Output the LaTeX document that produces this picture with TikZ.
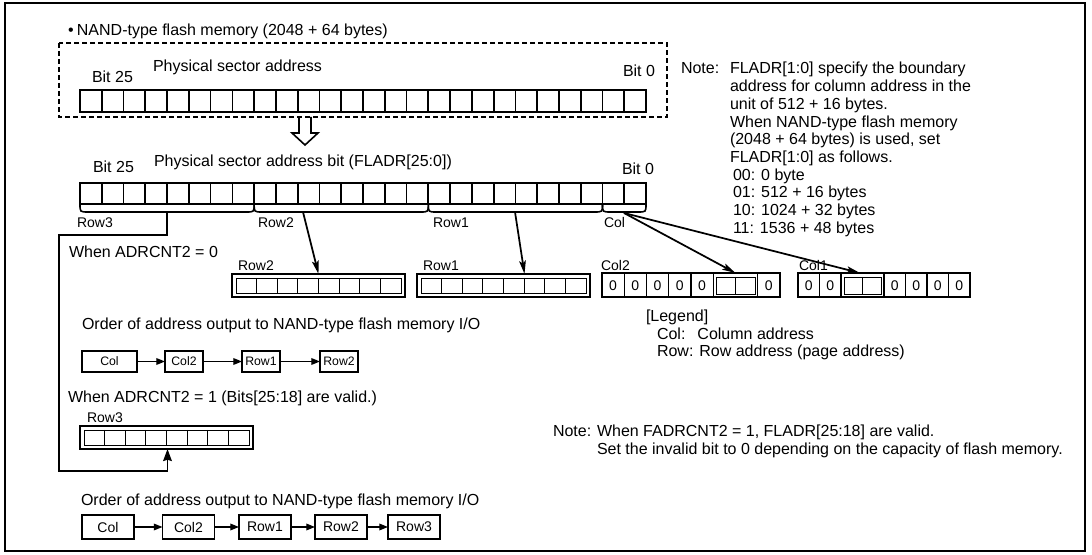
\documentclass[tikz,border=0pt]{standalone}
\usepackage{fontspec}
\setmainfont{Liberation Sans}
\usetikzlibrary{arrows.meta}
\begin{document}
\begin{tikzpicture}[x=0.75pt,y=-0.75pt,
  every node/.style={inner sep=0pt,outer sep=0pt},
  big/.style={font=\fontsize{12}{13.3}\selectfont},
  small/.style={font=\fontsize{10.5}{12}\selectfont},
  tiny/.style={font=\fontsize{9.2}{11}\selectfont},
  cellline/.style={line width=1.3pt},
  thinline/.style={line width=0.6pt},
  bracepath/.style={line width=1.2pt,line join=round},
  conn/.style={line width=1.3pt,-{Stealth[length=10pt,width=5pt,inset=2pt]}},
  feed/.style={line width=1.3pt,-{Stealth[length=9pt,width=6.5pt,inset=1pt]}},
  flow/.style={line width=0.9pt,-{Triangle[length=6.5pt,width=5pt]}},
  dblbox/.style={draw,line width=1.7pt,minimum width=129.75pt,minimum height=17.25pt,anchor=north west},
  colbox/.style={draw,line width=1.7pt,minimum height=18pt,anchor=north west},
  fboxa/.style={draw,line width=1.3pt,tiny,minimum height=15.75pt},
  fboxb/.style={draw,line width=1.3pt,small,minimum height=18pt,minimum width=39pt},
]
\useasboundingbox (0,0) rectangle (1092,555);
\draw[line width=1.6pt] (5,3) rectangle (1085,551);

% title
\node[big,anchor=base west] (title) at (68,36) {•\hspace{2.5pt}NAND-type flash memory (2048 + 64 bytes)};

% dashed box with top register
\draw[dash pattern=on 3.5pt off 2.5pt,line width=0.9pt] (59,43) rectangle (667,117);
\node[big,anchor=base west] (psa) at (153,72) {Physical sector address};
\node[big,anchor=base west] (b25a) at (92,83) {Bit 25};
\node[big,anchor=base west] (b0a) at (623,77) {Bit 0};
\foreach \i in {0,...,25} \draw[cellline] ({80+\i*21.77},90) rectangle ({80+(\i+1)*21.77},112);

% hollow arrow
\draw[line width=1.2pt,line join=miter] (299,117) -- (299,133) -- (292,133) -- (305,145) -- (318,133) -- (311,133) -- (311,117);

% second register
\node[big,anchor=base west] (psab) at (154,167) {Physical sector address bit (FLADR[25:0])};
\node[big,anchor=base west] (b25b) at (93,173) {Bit 25};
\node[big,anchor=base west] (b0b) at (622,175) {Bit 0};
\foreach \i in {0,...,25} \draw[cellline] ({80+\i*21.77},183) rectangle ({80+(\i+1)*21.77},204);

% braces
\foreach \a/\b in {80/254.16,254.16/428.32,428.32/602.48,602.48/646}
  \draw[bracepath] (\a,204) .. controls (\a,212) .. ({\a+8},212) -- ({\b-8},212) .. controls (\b,212) .. (\b,204);
\node[small,anchor=base west] (lr3) at (77,228) {Row3};
\node[small,anchor=base west] (lr2) at (258,228) {Row2};
\node[small,anchor=base west] (lr1) at (433,228) {Row1};
\node[small,anchor=base west] (lc) at (604,228) {Col};
\coordinate (r3b) at (167.1,212);
\coordinate (r2b) at (303,212);
\coordinate (r1b) at (515,212);
\coordinate (cb) at (624,213);

\node[big,anchor=base west] (w0) at (69,258) {When ADRCNT2 = 0};

% double boxes
\node[dblbox] (row2box) at (232,274) {};
\node[dblbox] (row1box) at (417,274) {};
\node[dblbox] (row3box) at (80,426) {};
\foreach \x/\y in {232/274,417/274,80/426} {
  \draw[thinline] ({\x+4},{\y+4}) rectangle ({\x+169},{\y+19});
  \foreach \k in {1,...,7} \draw[thinline] ({\x+4+\k*20.625},{\y+4}) -- ({\x+4+\k*20.625},{\y+19});
}
\node[small,anchor=base west] (tr2) at (238,271) {Row2};
\node[small,anchor=base west] (tr1) at (423,271) {Row1};
\node[small,anchor=base west] (tr3) at (87,423) {Row3};

% Col2 box
\node[colbox,minimum width=133.5pt] (col2box) at (602,273) {};
\foreach \k in {1,2,3,4,5,7} \draw[line width=0.8pt] ({602+\k*22.25},273) -- ({602+\k*22.25},297);
\draw[thinline] (716,277) rectangle (755,294);
\draw[thinline] (735.5,277) -- (735.5,294);
\foreach \k in {0,1,2,3,4,7} \node[small] (c2d\k) at ({602+\k*22.25+11.1},285.5) {0};
\node[small,anchor=base west] (tc2) at (601,271) {Col2};

% Col1 box
\node[colbox,minimum width=129pt] (col1box) at (798,273) {};
\foreach \k in {1,2,4,5,6,7} \draw[line width=0.8pt] ({798+\k*21.5},273) -- ({798+\k*21.5},297);
\draw[thinline] (844,277) rectangle (881,294);
\draw[thinline] (862.5,277) -- (862.5,294);
\foreach \k in {0,1,4,5,6,7} \node[small] (c1d\k) at ({798+\k*21.5+10.75},285.5) {0};
\node[small,anchor=base west] (tc1) at (799,271) {Col1};

% arrows to boxes
\coordinate (row2in) at (318.5,274);
\coordinate (row1in) at (524.5,274);
\coordinate (col2in) at (735.5,273);
\coordinate (col1in) at (860,273);
\draw[conn] (r2b) -- (row2in);
\draw[conn] (r1b) -- (row1in);
\draw[conn] (cb) -- (col2in);
\draw[conn] (cb) -- (col1in);

% feedback line Row3
\coordinate (row3in) at (167.5,449);
\draw[feed] (r3b) -- (167.1,235) -- (59,235) -- (59,471) -- (167.5,471) -- (row3in);

% flow 1
\node[big,anchor=base west] (ord1) at (82,330) {Order of address output to NAND-type flash memory I/O};
\node[fboxa,minimum width=41.25pt] (f1a) at (109.5,361.5) {Col};
\node[fboxa,minimum width=28.5pt] (f1b) at (184,361.5) {Col2};
\node[fboxa,minimum width=28.5pt] (f1c) at (261,361.5) {Row1};
\node[fboxa,minimum width=28.5pt] (f1d) at (339,361.5) {Row2};
\draw[flow] (f1a) -- (f1b);
\draw[flow] (f1b) -- (f1c);
\draw[flow] (f1c) -- (f1d);

\node[big,anchor=base west] (w1) at (68,403) {When ADRCNT2 = 1 (Bits[25:18] are valid.)};

% flow 2
\node[big,anchor=base west] (ord2) at (81,505) {Order of address output to NAND-type flash memory I/O};
\node[fboxb] (f2a) at (108,527) {Col};
\node[fboxb] (f2b) at (188.5,527) {Col2};
\node[fboxb] (f2c) at (265,527) {Row1};
\node[fboxb] (f2d) at (341,527) {Row2};
\node[fboxb] (f2e) at (414,527) {Row3};
\draw[flow] (f2a) -- (f2b);
\draw[flow] (f2b) -- (f2c);
\draw[flow] (f2c) -- (f2d);
\draw[flow] (f2d) -- (f2e);

% note top right
\node[big,anchor=base west] (nA) at (681,74) {Note:};
\node[big,anchor=base west] (nA1) at (730,74) {FLADR[1:0] specify the boundary};
\node[big,anchor=base west] (nA2) at (730,91.7) {address for column address in the};
\node[big,anchor=base west] (nA3) at (730,109.4) {unit of 512 + 16 bytes.};
\node[big,anchor=base west] (nA4) at (730,127.1) {When NAND-type flash memory};
\node[big,anchor=base west] (nA5) at (730,144.8) {(2048 + 64 bytes) is used, set};
\node[big,anchor=base west] (nA6) at (730,162.5) {FLADR[1:0] as follows.};
\node[big,anchor=base west] (nA7) at (733,180.2) {00: 0 byte};
\node[big,anchor=base west] (nA8) at (733,197.9) {01: 512 + 16 bytes};
\node[big,anchor=base west] (nA9) at (733,215.6) {10: 1024 + 32 bytes};
\node[big,anchor=base west] (nA10) at (733,233.3) {11: 1536 + 48 bytes};

% legend
\node[big,anchor=base west] (lg) at (646,322) {[Legend]};
\node[big,anchor=base west] (lg1) at (657,339.5) {Col:\hspace{9pt}Column address};
\node[big,anchor=base west] (lg2) at (657,357) {Row: Row address (page address)};

% note bottom
\node[big,anchor=base west] (nB) at (553,437) {Note:};
\node[big,anchor=base west] (nB1) at (597,437) {When FADRCNT2 = 1, FLADR[25:18] are valid.};
\node[big,anchor=base west] (nB2) at (597,455) {Set the invalid bit to 0 depending on the capacity of flash memory.};
\end{tikzpicture}
\end{document}
